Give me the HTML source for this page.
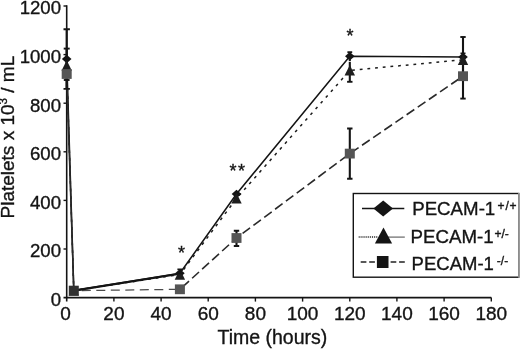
<!DOCTYPE html><html><head><meta charset="utf-8"><title>Platelets x 10^3 / mL vs Time (hours)</title>
<style>html,body{margin:0;padding:0;background:#fff}svg{display:block;will-change:transform}text{font-family:"Liberation Sans",Arial,Helvetica,sans-serif;fill:#141414;stroke:#141414;stroke-width:.35px}</style></head><body>
<svg width="520" height="351" viewBox="0 0 520 351">
<path d="M66.7 5.3V301.6M63.5 297.6H491.3" fill="none" stroke="#141414" stroke-width="1.6"/>
<path d="M63.5 249.0H66.7" stroke="#141414" stroke-width="1.4"/>
<path d="M63.5 200.4H66.7" stroke="#141414" stroke-width="1.4"/>
<path d="M63.5 151.8H66.7" stroke="#141414" stroke-width="1.4"/>
<path d="M63.5 103.2H66.7" stroke="#141414" stroke-width="1.4"/>
<path d="M63.5 54.6H66.7" stroke="#141414" stroke-width="1.4"/>
<path d="M63.5 6.0H66.7" stroke="#141414" stroke-width="1.4"/>
<text x="61" y="306.0" font-size="18.6" text-anchor="end">0</text>
<text x="61" y="257.4" font-size="18.6" text-anchor="end">200</text>
<text x="61" y="208.8" font-size="18.6" text-anchor="end">400</text>
<text x="61" y="160.2" font-size="18.6" text-anchor="end">600</text>
<text x="61" y="111.6" font-size="18.6" text-anchor="end">800</text>
<text x="61" y="63.0" font-size="18.6" text-anchor="end">1000</text>
<text x="61" y="14.4" font-size="18.6" text-anchor="end">1200</text>
<path d="M113.9 297.6V301.6" stroke="#141414" stroke-width="1.4"/>
<path d="M161.1 297.6V301.6" stroke="#141414" stroke-width="1.4"/>
<path d="M208.2 297.6V301.6" stroke="#141414" stroke-width="1.4"/>
<path d="M255.4 297.6V301.6" stroke="#141414" stroke-width="1.4"/>
<path d="M302.6 297.6V301.6" stroke="#141414" stroke-width="1.4"/>
<path d="M349.8 297.6V301.6" stroke="#141414" stroke-width="1.4"/>
<path d="M396.9 297.6V301.6" stroke="#141414" stroke-width="1.4"/>
<path d="M444.1 297.6V301.6" stroke="#141414" stroke-width="1.4"/>
<path d="M491.3 297.6V301.6" stroke="#141414" stroke-width="1.4"/>
<text x="65.6" y="320" font-size="19" text-anchor="middle">0</text>
<text x="113.9" y="320" font-size="19" text-anchor="middle">20</text>
<text x="161.1" y="320" font-size="19" text-anchor="middle">40</text>
<text x="208.2" y="320" font-size="19" text-anchor="middle">60</text>
<text x="255.4" y="320" font-size="19" text-anchor="middle">80</text>
<text x="302.6" y="320" font-size="19" text-anchor="middle">100</text>
<text x="349.8" y="320" font-size="19" text-anchor="middle">120</text>
<text x="396.9" y="320" font-size="19" text-anchor="middle">140</text>
<text x="444.1" y="320" font-size="19" text-anchor="middle">160</text>
<text x="491.3" y="320" font-size="19" text-anchor="middle">180</text>
<text x="272.4" y="344.3" font-size="19.5" text-anchor="middle">Time (hours)</text>
<text transform="translate(13.9,218.5) rotate(-90)" font-size="19">Platelets x 10<tspan font-size="11.5" dy="-6.5">3</tspan><tspan dy="6.5"> / mL</tspan></text>
<polyline points="66.7,59.0 73.8,290.6 179.9,273.3 236.5,194.0 349.8,56.2 463.0,57.0" fill="none" stroke="#141414" stroke-width="1.55"/>
<polyline points="66.7,65.5 73.8,290.6 179.9,274.5 236.5,198.4 349.8,70.4 463.0,59.8" fill="none" stroke="#1c1c1c" stroke-width="1.5" stroke-dasharray="2.8 4.9"/>
<polyline points="66.7,74.0 73.8,290.6" fill="none" stroke="#2a2a2a" stroke-width="1.5"/>
<path d="M81.8 290.6L179.9 289.3" fill="none" stroke="#4a4a4a" stroke-width="1.25" stroke-dasharray="9 5.5"/>
<polyline points="179.9,289.3 236.5,238.0 349.8,153.6 463.0,76.2" fill="none" stroke="#2a2a2a" stroke-width="1.6" stroke-dasharray="9.3 4.2" stroke-dashoffset="-3"/>
<path d="M73.8 290.6L179.9 273.7" fill="none" stroke="#141414" stroke-width="2.1"/>
<path d="M66.7 29.2V88.9" stroke="#141414" stroke-width="2.1" fill="none"/>
<path d="M63.5 29.2h6.4M63.5 88.9h6.4" stroke="#141414" stroke-width="1.9" fill="none"/>
<path d="M66.7 48.6V88.9" stroke="#141414" stroke-width="2.1" fill="none"/>
<path d="M63.7 48.6h6.0" stroke="#141414" stroke-width="1.9" fill="none"/>
<path d="M66.7 67.7V80.0" stroke="#141414" stroke-width="2.1" fill="none"/>
<path d="M63.8 80.0h5.8" stroke="#141414" stroke-width="1.9" fill="none"/>
<path d="M236.5 230.7V246.0" stroke="#141414" stroke-width="2.1" fill="none"/>
<path d="M233.8 230.7h5.4M233.8 246.0h5.4" stroke="#141414" stroke-width="1.9" fill="none"/>
<path d="M349.8 52.2V61.0" stroke="#141414" stroke-width="2.1" fill="none"/>
<path d="M347.4 52.2h4.8" stroke="#141414" stroke-width="1.9" fill="none"/>
<path d="M349.8 61.8V81.8" stroke="#141414" stroke-width="2.1" fill="none"/>
<path d="M347.1 81.8h5.4" stroke="#141414" stroke-width="1.9" fill="none"/>
<path d="M349.8 128.5V178.7" stroke="#141414" stroke-width="2.1" fill="none"/>
<path d="M347.1 128.5h5.4M347.1 178.7h5.4" stroke="#141414" stroke-width="1.9" fill="none"/>
<path d="M463.0 37.0V77.0" stroke="#141414" stroke-width="2.1" fill="none"/>
<path d="M460.3 37.0h5.4" stroke="#141414" stroke-width="1.9" fill="none"/>
<path d="M463.0 53.3V98.6" stroke="#141414" stroke-width="2.1" fill="none"/>
<path d="M460.3 98.6h5.4" stroke="#141414" stroke-width="1.9" fill="none"/>
<path d="M66.7 54.7L71.5 59.0L66.7 63.3L61.9 59.0Z" fill="#141414"/>
<path d="M73.8 286.3L78.6 290.6L73.8 294.9L69.0 290.6Z" fill="#141414"/>
<path d="M179.9 269.0L184.7 273.3L179.9 277.6L175.1 273.3Z" fill="#141414"/>
<path d="M236.5 189.7L241.3 194.0L236.5 198.3L231.7 194.0Z" fill="#141414"/>
<path d="M349.8 51.9L354.6 56.2L349.8 60.5L345.0 56.2Z" fill="#141414"/>
<path d="M463.0 52.7L467.8 57.0L463.0 61.3L458.2 57.0Z" fill="#141414"/>
<path d="M66.7 60.2L71.9 70.7H61.5Z" fill="#1e1e1e"/>
<path d="M73.8 285.3L79.0 295.8H68.6Z" fill="#1e1e1e"/>
<path d="M179.9 269.2L185.1 279.7H174.7Z" fill="#1e1e1e"/>
<path d="M236.5 193.1L241.7 203.6H231.3Z" fill="#1e1e1e"/>
<path d="M349.8 65.1L355.0 75.6H344.6Z" fill="#1e1e1e"/>
<path d="M463.0 54.5L468.2 65.0H457.8Z" fill="#1e1e1e"/>
<rect x="61.7" y="69.1" width="10" height="9.8" fill="#555"/>
<rect x="68.8" y="285.7" width="10" height="9.8" fill="#303030"/>
<rect x="174.9" y="284.4" width="10" height="9.8" fill="#555"/>
<rect x="231.5" y="233.1" width="10" height="9.8" fill="#555"/>
<rect x="344.8" y="148.7" width="10" height="9.8" fill="#555"/>
<rect x="458.0" y="71.3" width="10" height="9.8" fill="#555"/>
<path d="M179.9 269.4V273.4" stroke="#141414" stroke-width="2.1" fill="none"/>
<path d="M177.4 269.4h5.0M177.4 273.4h5.0" stroke="#141414" stroke-width="1.9" fill="none"/>
<path d="M460.5 53.3h5" stroke="#141414" stroke-width="1.6"/>
<text x="181.6" y="259" font-size="18" text-anchor="middle">*</text>
<text x="229.4" y="176.5" font-size="18" letter-spacing="1.6">**</text>
<text x="350" y="42.2" font-size="18" text-anchor="middle">*</text>
<rect x="353.3" y="193.5" width="165.4" height="83.7" fill="#fff" stroke="#141414" stroke-width="1.4"/><path d="M518.9 193V277.8" stroke="#999" stroke-width="1.6"/>
<path d="M362 208.5H404.3" stroke="#141414" stroke-width="1.6"/>
<path d="M383.2 200.6l9.8 7.9l-9.8 7.9l-9.8 -7.9Z" fill="#141414"/>
<path d="M358.7 237.1H378" stroke="#222" stroke-width="1.5" stroke-dasharray="1 0.9"/>
<path d="M388 237.1H404.8" stroke="#666" stroke-width="1.2"/>
<path d="M383.5 227.6l8.6 15.8h-17.2Z" fill="#141414"/>
<path d="M360.7 262.0h5.7m2.8 0h5.7M390.6 262.0h5.7m2.8 0h5.7" stroke="#222" stroke-width="1.7"/>
<rect x="376.9" y="256.0" width="11.6" height="12" fill="#141414"/>
<text x="412.2" y="215" font-size="18.7">PECAM-1<tspan font-size="12" dy="-5.3" dx="2.3" letter-spacing="0.8">+/+</tspan></text>
<text x="410.5" y="243.4" font-size="18.7">PECAM-1<tspan font-size="12" dy="-5.3" dx="0.9" letter-spacing="0">+/-</tspan></text>
<text x="411.6" y="270" font-size="18.5">PECAM-1<tspan font-size="12" dy="-5.3" dx="3.0" letter-spacing="0">-/-</tspan></text>
</svg></body></html>
